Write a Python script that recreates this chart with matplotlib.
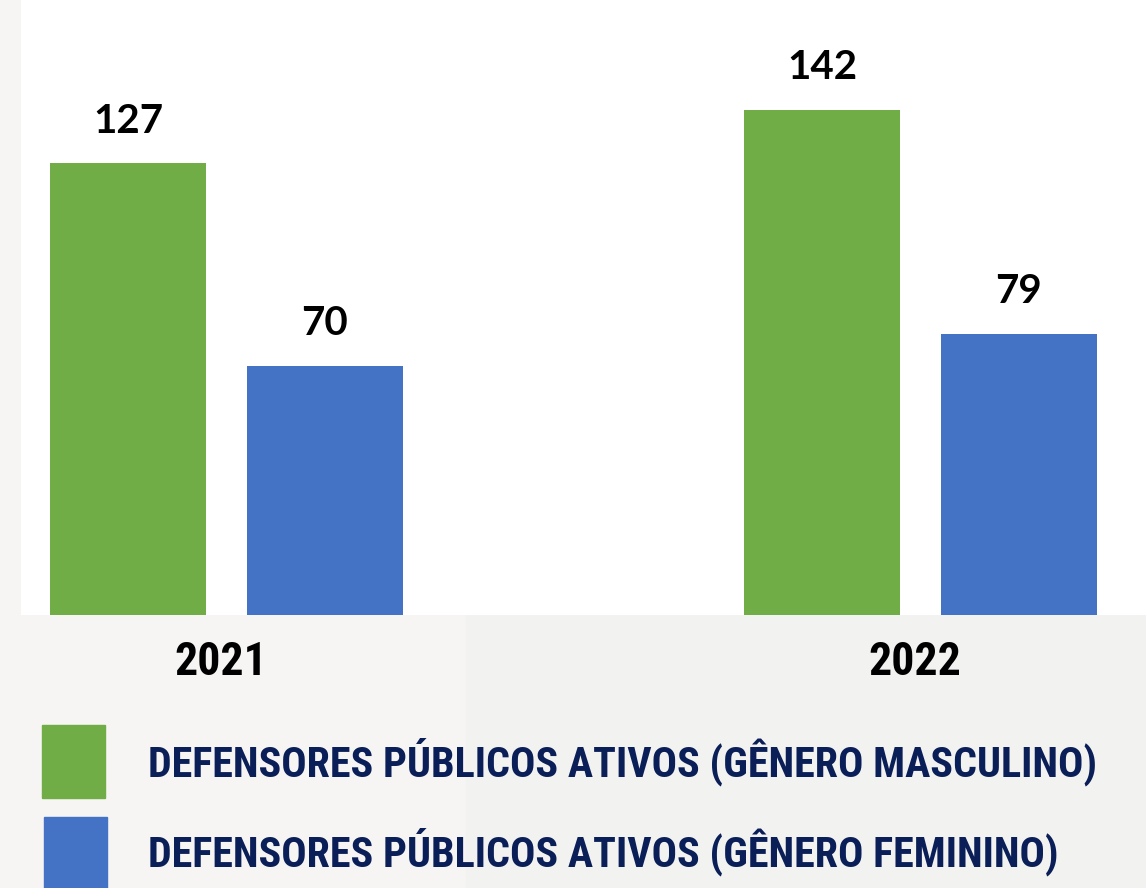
import numpy as np
import matplotlib
matplotlib.use("Agg")
import matplotlib.pyplot as plt
from matplotlib import font_manager
from matplotlib.patches import Rectangle

# data
years = ["2021", "2022"]
masculino = [127, 142]
feminino = [70, 79]
series_labels = [
    "DEFENSORES PÚBLICOS ATIVOS (GÊNERO MASCULINO)",
    "DEFENSORES PÚBLICOS ATIVOS (GÊNERO FEMININO)",
]
colors = ["#70ad47", "#4472c4"]

W, H = 1146, 888
installed = {f.name for f in font_manager.fontManager.ttflist}


def pick(names, default="DejaVu Sans"):
    return next((n for n in names if n in installed), default)


narrow = pick(["Liberation Sans Narrow", "DejaVu Sans Condensed", "Roboto Condensed", "Roboto"])
label_font = pick(["Lato", "Open Sans", "Liberation Sans"])

fig = plt.figure(figsize=(W / 100, H / 100), dpi=100, facecolor="#f6f5f3")
# slightly darker band on the right of the lower area (behind everything)
fig.patches.append(Rectangle((466 / W, 0), 1 - 466 / W, 1 - 615 / H,
                             transform=fig.transFigure, color="#f2f2f0", zorder=-5))

ax = fig.add_axes([21 / W, 1 - 615 / H, 1 - 21 / W, 615 / H])
ax.set_facecolor("white")

x = np.arange(len(years))
width = 0.2248
off = 0.1419
b1 = ax.bar(x - off, masculino, width, color=colors[0])
b2 = ax.bar(x + off, feminino, width, color=colors[1])

for bars, vals in [(b1, masculino), (b2, feminino)]:
    for bar, v in zip(bars, vals):
        ax.annotate(str(v), (bar.get_x() + bar.get_width() / 2, bar.get_height()),
                    xytext=(0, 22), textcoords="offset points",
                    ha="center", va="baseline", fontsize=29, fontweight="bold",
                    family=label_font, color="black")

ax.set_xlim(-0.296, 1.325)
ax.set_ylim(0, 172.9)
ax.set_yticks([])
ax.set_xticks(x - 0.008, years)
ax.tick_params(axis="x", length=0, pad=18)
for t in ax.get_xticklabels():
    t.set_fontsize(33)
    t.set_fontweight("bold")
    t.set_family(narrow)
    t.set_color("black")
for s in ax.spines.values():
    s.set_visible(False)

# legend, drawn by hand to match the big swatches
swatches = [(42, 725, 63, 73), (44, 817, 63, 71)]
baselines = [776, 866]
texts = []
for (sx, sy, sw, sh), col, lab, base in zip(swatches, colors, series_labels, baselines):
    fig.patches.append(Rectangle((sx / W, 1 - (sy + sh) / H), sw / W, sh / H,
                                 transform=fig.transFigure, color=col, zorder=1))
    texts.append(fig.text(148 / W, 1 - base / H, lab, ha="left", va="baseline",
                          fontsize=34, fontweight="bold", family=narrow, color="#0a1e57"))

# fit the first legend line to its width in the reference
fig.canvas.draw()
r = fig.canvas.get_renderer()
wpx = texts[0].get_window_extent(r).width
for t in texts:
    t.set_fontsize(34 * 952 / wpx)

fig.savefig("out.png", dpi=100, facecolor=fig.get_facecolor())
